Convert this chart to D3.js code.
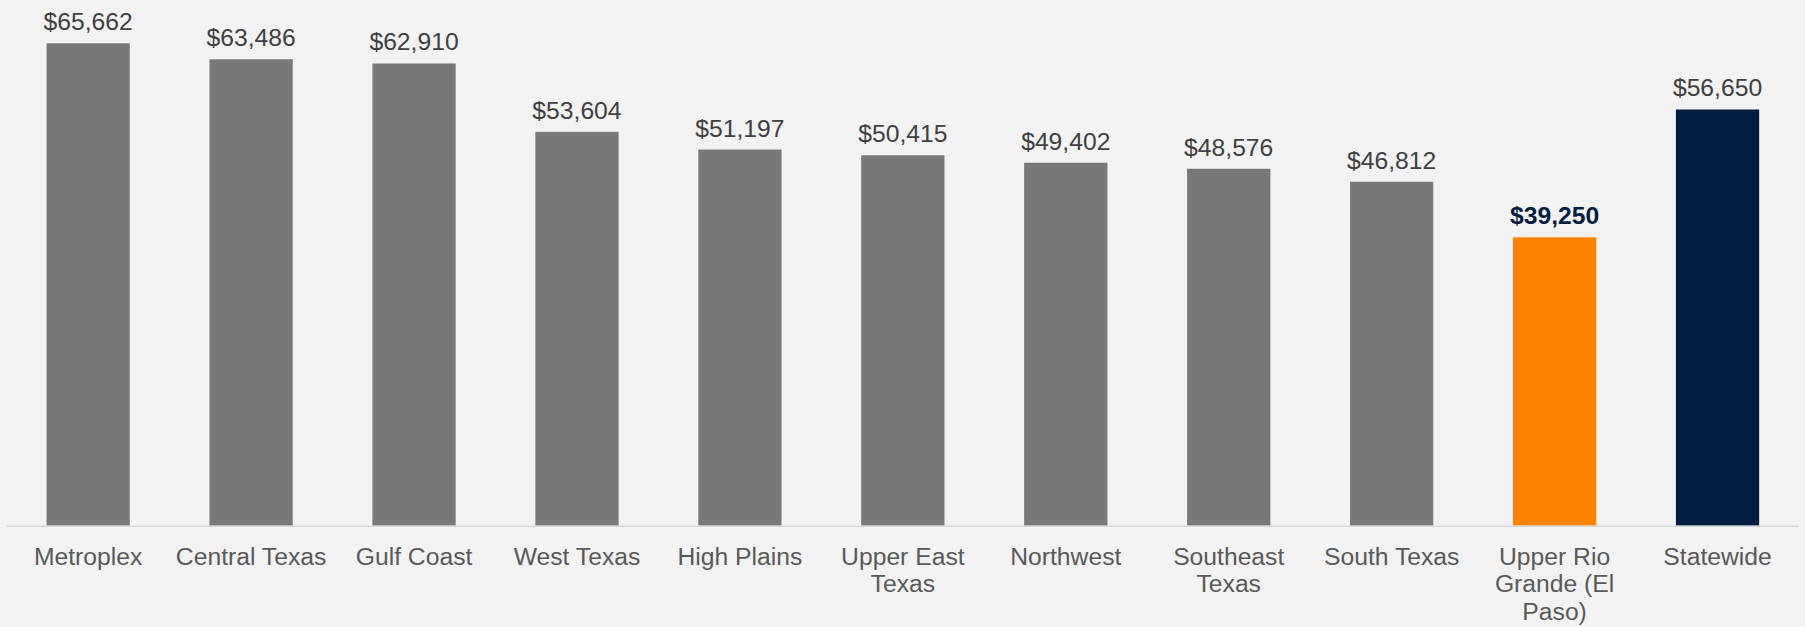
<!DOCTYPE html>
<html>
<head>
<meta charset="utf-8">
<script src="https://cdn.jsdelivr.net/npm/d3@7"></script>
<style>
  body { margin: 0; background: #f2f2f2; }
  svg { display: block; font-family: Arial, "Liberation Sans", sans-serif; }
</style>
</head>
<body>
<svg width="1805" height="627"></svg>
<script>
// regions and median income values
var regions = ["Metroplex", "Central Texas", "Gulf Coast", "West Texas", "High Plains",
  "Upper East Texas", "Northwest", "Southeast Texas", "South Texas",
  "Upper Rio Grande (El Paso)", "Statewide"];
var incomes = [65662, 63486, 62910, 53604, 51197, 50415, 49402, 48576, 46812, 39250, 56650];
var highlight = "Upper Rio Grande (El Paso)";
var total = "Statewide";

var svg = d3.select("svg"),
  margin = {top: 11.4, right: 6, bottom: 101.3, left: 6.7},
  width = +svg.attr("width") - margin.left - margin.right,
  height = +svg.attr("height") - margin.top - margin.bottom,
  g = svg.append("g").attr("transform", "translate(" + margin.left + "," + margin.top + ")");

svg.insert("rect", ":first-child").attr("width", 1805).attr("height", 627).attr("fill", "#f2f2f2");

var x = d3.scaleBand().domain(regions).range([0, width]).paddingInner(0.489).paddingOuter(0.2445);
var y = d3.scaleLinear().domain([0, 70000]).range([height, 0]);

var fmt = function(v) { return "$" + d3.format(",")(v); };
var color = function(r) {
  if (r == highlight) return "#ff8200";
  if (r == total) return "#041e42";
  return "#787878";
};

var data = regions.map(function(r, i) { return {region: r, value: incomes[i]}; });

g.selectAll(".bar")
  .data(data)
  .enter().append("rect")
    .attr("class", "bar")
    .attr("x", function(d) { return x(d.region); })
    .attr("y", function(d) { return y(d.value); })
    .attr("width", x.bandwidth())
    .attr("height", function(d) { return height - y(d.value); })
    .attr("fill", function(d) { return color(d.region); });

// axis line
g.append("line")
  .attr("x1", 0).attr("x2", width)
  .attr("y1", height + 0.5).attr("y2", height + 0.5)
  .attr("stroke", "#d9d9d9").attr("stroke-width", 1.5);

// value labels
g.selectAll(".val")
  .data(data)
  .enter().append("text")
    .attr("class", "val")
    .attr("x", function(d) { return x(d.region) + x.bandwidth() / 2; })
    .attr("y", function(d) { return y(d.value) - 13; })
    .attr("text-anchor", "middle")
    .style("font-size", "24.7px")
    .style("font-weight", function(d) { return d.region == highlight ? "bold" : "normal"; })
    .attr("fill", function(d) { return d.region == highlight ? "#041e42" : "#404040"; })
    .text(function(d) { return fmt(d.value); });

// category labels, wrapped to the band step
var xAxis = g.append("g")
  .attr("transform", "translate(0," + height + ")")
  .call(d3.axisBottom(x).tickSize(0).tickPadding(0));
xAxis.select(".domain").remove();
xAxis.selectAll("text")
  .style("font-size", "24.7px")
  .style("font-family", "Arial, 'Liberation Sans', sans-serif")
  .attr("fill", "#595959")
  .attr("y", 39)
  .attr("dy", 0)
  .call(wrap, x.step() - 4);

function wrap(texts, w) {
  texts.each(function() {
    var text = d3.select(this),
      words = text.text().split(/\s+/),
      line = [],
      lineNo = 0,
      yy = text.attr("y"),
      tspan = text.text(null).append("tspan").attr("x", 0).attr("y", yy);
    words.forEach(function(word) {
      line.push(word);
      tspan.text(line.join(" "));
      if (tspan.node().getComputedTextLength() > w && line.length > 1) {
        line.pop();
        tspan.text(line.join(" "));
        line = [word];
        lineNo++;
        tspan = text.append("tspan").attr("x", 0).attr("y", +yy + lineNo * 27.5).text(word);
      }
    });
  });
}
</script>
</body>
</html>
